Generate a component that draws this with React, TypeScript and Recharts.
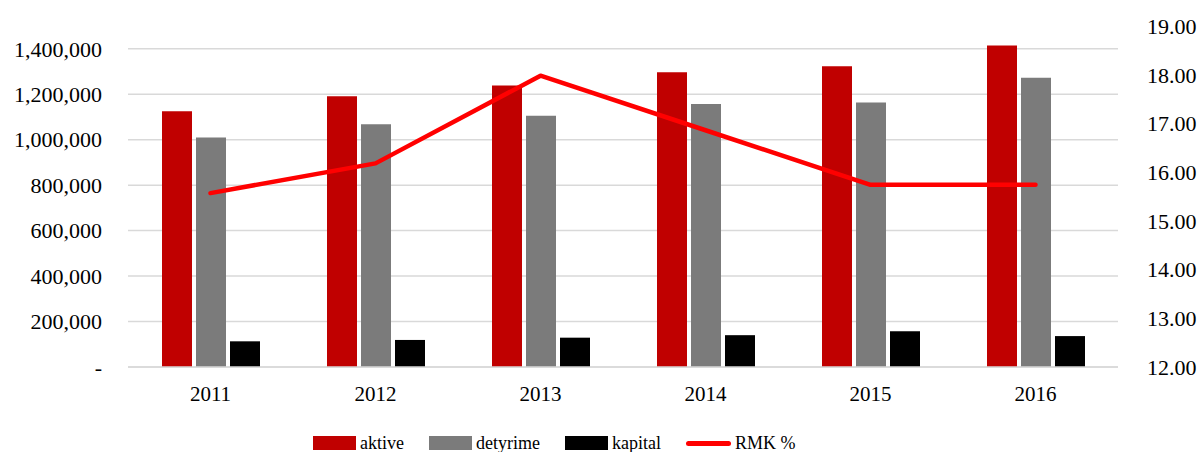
import { ComposedChart, Bar, Line, XAxis, YAxis, CartesianGrid, Legend } from 'recharts'

const YEARS = ['2011', '2012', '2013', '2014', '2015', '2016']
const AKTIVE = [1125000, 1191000, 1238000, 1297000, 1323000, 1414000]
const DETYRIME = [1010000, 1068000, 1105000, 1157000, 1164000, 1272000]
const KAPITAL = [113000, 119000, 129000, 140000, 157000, 136000]
const RMK = [15.57, 16.18, 17.98, 16.86, 15.74, 15.74]

const LEFT_TICKS = [0, 200000, 400000, 600000, 800000, 1000000, 1200000, 1400000]
const RIGHT_TICKS = [12, 13, 14, 15, 16, 17, 18, 19]

const RED = '#C00000'
const GRAY = '#7B7B7B'
const BLACK = '#000000'
const LINE = '#FF0000'
const GRID = '#D9D9D9'
const FONT = '"Liberation Serif", "DejaVu Serif", serif'

const data = YEARS.map((y, i) => ({
  year: y,
  aktive: AKTIVE[i],
  detyrime: DETYRIME[i],
  kapital: KAPITAL[i],
  rmk: RMK[i],
}))

const fmtLeft = (v: number) => (v === 0 ? '-' : v.toLocaleString('en-US'))
const fmtRight = (v: number) => v.toFixed(2)

const LEGEND = [
  { name: 'aktive', color: RED, kind: 'box' },
  { name: 'detyrime', color: GRAY, kind: 'box' },
  { name: 'kapital', color: BLACK, kind: 'box' },
  { name: 'RMK %', color: LINE, kind: 'line' },
]

function ChartLegend() {
  return (
    <div style={{ display: 'flex', alignItems: 'center', height: 30, paddingTop: 12, paddingLeft: 313,
      boxSizing: 'border-box', gap: 25, fontFamily: FONT, fontSize: 18, color: '#000' }}>
      {LEGEND.map((d) => (
        <div key={d.name} style={{ display: 'flex', alignItems: 'center', gap: 4 }}>
          {d.kind === 'box'
            ? <span style={{ width: 43, height: 14, background: d.color, display: 'inline-block' }} />
            : <span style={{ width: 45, height: 5, borderRadius: 3, background: d.color, display: 'inline-block' }} />}
          <span style={{ fontFamily: FONT }}>{d.name}</span>
        </div>
      ))}
    </div>
  )
}

export default function App() {
  const tick = { fill: '#000', fontSize: 22, fontFamily: FONT }
  return (
    <div style={{ position: 'absolute', left: 0, top: 0, background: '#fff', fontFamily: FONT }}>
      <ComposedChart width={1200} height={452} data={data} style={{ fontFamily: FONT }}
        margin={{ top: 26, right: 0, left: 0, bottom: 0 }} barSize={30} barGap={4}>
        <CartesianGrid yAxisId="left" vertical={false} stroke={GRID} strokeWidth={1.5} syncWithTicks />
        <XAxis dataKey="year" height={55} tickLine={false} axisLine={{ stroke: GRID, strokeWidth: 1.5 }}
          tickSize={0} tickMargin={19} tick={{ ...tick, fontSize: 21 }} />
        <YAxis yAxisId="left" width={128} domain={[0, 1500000]} ticks={LEFT_TICKS} tickFormatter={fmtLeft}
          axisLine={false} tickLine={false} tickSize={0} tickMargin={26} tick={tick} interval={0} />
        <YAxis yAxisId="right" orientation="right" width={82} domain={[12, 19]} ticks={RIGHT_TICKS}
          tickFormatter={fmtRight} axisLine={false} tickLine={false} tickSize={0} tickMargin={29} tick={tick} interval={0} />
        <Legend verticalAlign="bottom" content={<ChartLegend />}
          wrapperStyle={{ left: 0, width: 1200, height: 30, bottom: 0 }} />
        <Bar yAxisId="left" dataKey="aktive" fill={RED} isAnimationActive={false} />
        <Bar yAxisId="left" dataKey="detyrime" fill={GRAY} isAnimationActive={false} />
        <Bar yAxisId="left" dataKey="kapital" fill={BLACK} isAnimationActive={false} />
        <Line yAxisId="right" dataKey="rmk" type="linear" stroke={LINE} strokeWidth={4.5}
          strokeLinecap="round" strokeLinejoin="round" dot={false} isAnimationActive={false} />
      </ComposedChart>
    </div>
  )
}
